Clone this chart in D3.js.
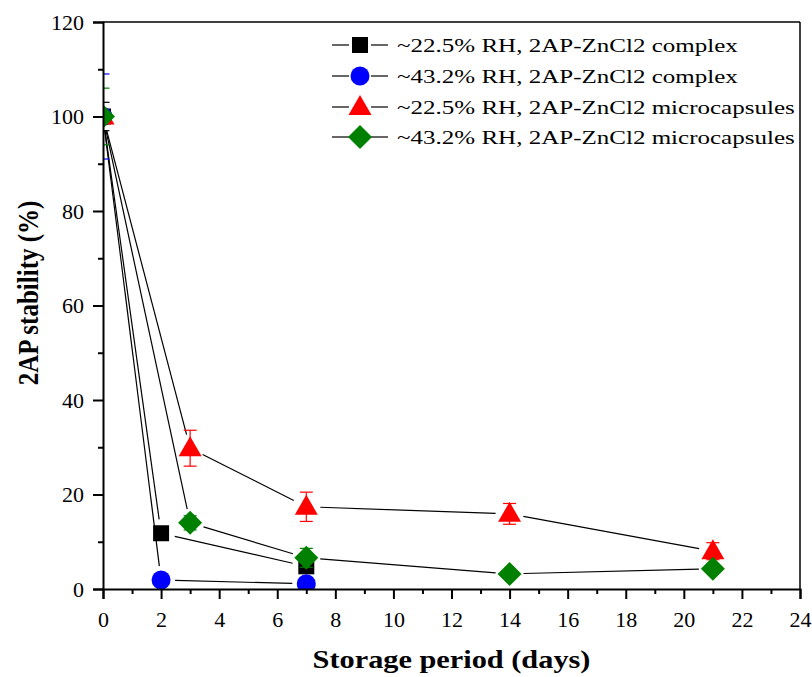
<!DOCTYPE html>
<html><head><meta charset="utf-8">
<script src="https://cdn.jsdelivr.net/npm/d3@7"></script>
<style>body{margin:0;background:#fff}svg{display:block}
svg text{font-family:"Liberation Serif","Times New Roman",Tinos,"Nimbus Roman","DejaVu Serif",serif !important;}</style>
</head><body>
<script>
// ---- data ----
const seriesNames = ["~22.5% RH, 2AP-ZnCl2 complex","~43.2% RH, 2AP-ZnCl2 complex","~22.5% RH, 2AP-ZnCl2 microcapsules","~43.2% RH, 2AP-ZnCl2 microcapsules"];
const seriesColors = ["#000000","#0000ff","#ff0000","#008000"];
const seriesShapes = ["square","circle","triangle","diamond"];
const blackDays = [0, 2, 7];
const blackVals = [100, 11.8, 4.8];
const blackErr  = [3, 0.8, 1.5];
const blueDays = [0, 2, 7];
const blueVals = [100, 1.9, 1.1];
const blueErr  = [9, 0.5, 0.5];
const redDays = [0, 3, 7, 14, 21];
const redVals = [100, 29.8, 17.4, 15.9, 8.0];
const redErr  = [1, 3.8, 3.1, 2.2, 1.8];
const greenDays = [0, 3, 7, 14, 21];
const greenVals = [100, 14.0, 6.6, 3.2, 4.3];
const greenErr  = [6, 1.5, 2.0, 0.5, 0.8];
const xTicks = [0,2,4,6,8,10,12,14,16,18,20,22,24];
const yTicks = [0,20,40,60,80,100,120];

const W = 812, H = 677;
const m = {left:103, right:12, top:22, bottom:88};
const svg = d3.select("body").append("svg").attr("width",W).attr("height",H);
const x = d3.scaleLinear().domain([0,24]).range([m.left, W-m.right]);
const y = d3.scaleLinear().domain([0,120]).range([H-m.bottom, m.top]);

svg.append("defs").append("clipPath").attr("id","clip")
  .append("rect").attr("x",m.left).attr("y",m.top).attr("width",W-m.left-m.right).attr("height",H-m.top-m.bottom);

const series = [
  {d:blackDays,v:blackVals,e:blackErr},
  {d:blueDays,v:blueVals,e:blueErr},
  {d:redDays,v:redVals,e:redErr},
  {d:greenDays,v:greenVals,e:greenErr}
].map((s,i)=>({...s,name:seriesNames[i],color:seriesColors[i],shape:seriesShapes[i]}));

function shapePath(shape){
  switch(shape){
    case "square": return "M-8,-8H8V8H-8Z";
    case "circle": return d3.symbol(d3.symbolCircle, Math.PI*9.5*9.5)();
    case "triangle": return "M0,-12L11.5,8H-11.5Z";
    case "diamond": return "M0,-12L12,0L0,12L-12,0Z";
  }
}

const plot = svg.append("g").attr("clip-path","url(#clip)");
const gap = 14;
series.forEach(s=>{
  const g = plot.append("g");
  for(let i=0;i<s.d.length-1;i++){
    const x1=x(s.d[i]), y1=y(s.v[i]), x2=x(s.d[i+1]), y2=y(s.v[i+1]);
    const L=Math.hypot(x2-x1,y2-y1); if(L<2*gap) continue;
    const ux=(x2-x1)/L, uy=(y2-y1)/L;
    g.append("line").attr("x1",x1+ux*gap).attr("y1",y1+uy*gap)
      .attr("x2",x2-ux*gap).attr("y2",y2-uy*gap)
      .attr("stroke","#000").attr("stroke-width",1.2);
  }
  s.d.forEach((d,i)=>{
    const cx=x(d), t=y(s.v[i]+s.e[i]), b=y(s.v[i]-s.e[i]);
    g.append("line").attr("x1",cx).attr("x2",cx).attr("y1",t).attr("y2",b).attr("stroke",s.color).attr("stroke-width",1.2);
    [t,b].forEach(yy=>g.append("line").attr("x1",cx-6.5).attr("x2",cx+6.5).attr("y1",yy).attr("y2",yy).attr("stroke",s.color).attr("stroke-width",1.2));
  });
  s.d.forEach((d,i)=>{
    g.append("path").attr("d",shapePath(s.shape)).attr("transform",`translate(${x(d)},${y(s.v[i])})`).attr("fill",s.color);
  });
});

svg.append("line").attr("x1",m.left).attr("x2",W-m.right).attr("y1",m.top).attr("y2",m.top).attr("stroke","#000").attr("stroke-width",1.5);
svg.append("line").attr("x1",W-m.right).attr("x2",W-m.right).attr("y1",m.top).attr("y2",H-m.bottom).attr("stroke","#000").attr("stroke-width",1.5);

const xAxis = svg.append("g").attr("transform",`translate(0,${H-m.bottom})`)
  .call(d3.axisBottom(x).tickValues(xTicks).tickSize(10).tickPadding(12).tickFormat(d3.format("d")));
const xMinor = svg.append("g").attr("transform",`translate(0,${H-m.bottom})`)
  .call(d3.axisBottom(x).tickValues(d3.range(1,24,2)).tickSize(5).tickFormat(""));
const yAxis = svg.append("g").attr("transform",`translate(${m.left},0)`)
  .call(d3.axisLeft(y).tickValues(yTicks).tickSize(10).tickPadding(9).tickFormat(d3.format("d")));
const yMinor = svg.append("g").attr("transform",`translate(${m.left},0)`)
  .call(d3.axisLeft(y).tickValues(d3.range(10,120,20)).tickSize(5).tickFormat(""));
[xAxis,xMinor,yAxis,yMinor].forEach(a=>{
  a.attr("font-family",null);
  a.selectAll(".domain").attr("stroke","#000").attr("stroke-width",2);
  a.selectAll(".tick line").attr("stroke","#000").attr("stroke-width",2);
  a.selectAll("text").attr("font-size",22).attr("fill","#000");
});
xAxis.selectAll("text").attr("dy","0.71em");
yMinor.select(".domain").remove(); xMinor.select(".domain").remove();

// stretch a text horizontally to a target width, anchored at its centre or start
function fitWidth(sel, target, cx, cy, anchor){
  const w = sel.node().getComputedTextLength();
  const sx = target / w;
  sel.attr("x",0).attr("y",0).attr("text-anchor",anchor)
     .attr("transform",`translate(${cx},${cy}) scale(${sx},1)`);
}

const xt = svg.append("text").attr("font-weight","bold").attr("font-size",26).text("Storage period (days)");
fitWidth(xt, 278, (m.left+W-m.right)/2, 668, "middle");
svg.append("text").attr("transform",`translate(38,293) scale(1.15,1) rotate(-90)`).attr("text-anchor","middle")
  .attr("font-weight","bold").attr("font-size",25).text("2AP stability (%)");

const lg = svg.append("g");
const legY = [45,76,107,137];
const legTexts = [];
series.forEach((s,i)=>{
  const yy = legY[i];
  lg.append("line").attr("x1",332).attr("x2",349).attr("y1",yy).attr("y2",yy).attr("stroke","#000").attr("stroke-width",1.2);
  lg.append("line").attr("x1",371).attr("x2",388).attr("y1",yy).attr("y2",yy).attr("stroke","#000").attr("stroke-width",1.2);
  lg.append("path").attr("d",shapePath(s.shape)).attr("transform",`translate(360,${yy})`).attr("fill",s.color);
  legTexts.push(lg.append("text").attr("dy","0.35em").attr("font-size",19.5).text(s.name));
});
const maxLen = d3.max(legTexts, t=>t.node().getComputedTextLength());
const lsx = 398 / maxLen;
legTexts.forEach((t,i)=>t.attr("transform",`translate(397,${legY[i]}) scale(${lsx},1)`));
</script>
</body></html>
